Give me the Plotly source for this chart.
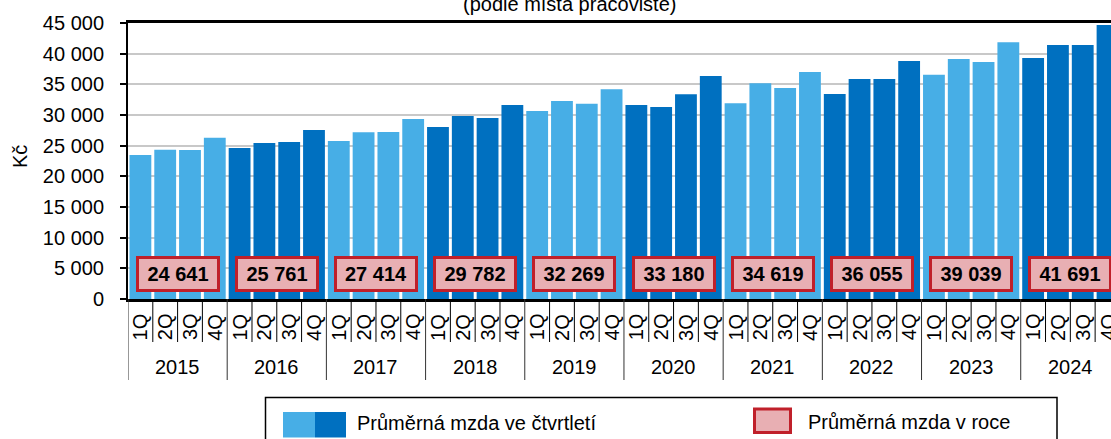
import plotly.graph_objects as go

years = ["2015", "2016", "2017", "2018", "2019", "2020", "2021", "2022", "2023", "2024"]
quarters = ["1Q", "2Q", "3Q", "4Q"]
quarterly_wage = [
    23480, 24350, 24300, 26300,
    24620, 25430, 25600, 27550,
    25760, 27170, 27230, 29350,
    28040, 29840, 29510, 31630,
    30650, 32280, 31850, 34190,
    31630, 31300, 33370, 36360,
    31900, 35160, 34400, 37010,
    33420, 35870, 35870, 38800,
    36570, 39130, 38640, 41850,
    39290, 41410, 41410, 44670,
]
annual_wage = [24641, 25761, 27414, 29782, 32269, 33180, 34619, 36055, 39039, 41691]
annual_labels = ["24 641", "25 761", "27 414", "29 782", "32 269", "33 180", "34 619", "36 055", "39 039", "41 691"]
y_ticks = [0, 5000, 10000, 15000, 20000, 25000, 30000, 35000, 40000, 45000]

LIGHT = "#47AEE6"
DARK = "#0070C0"
PINK = "#E8AFB3"
RED = "#C0202A"
FONT = "Liberation Sans, Arial, sans-serif"

W, H = 1111, 439
L, T = 128, 23
PW, PH = W - L, 276
B = H - T - PH


def px(xp):
    return (xp - L) / PW


def py(yp):
    return (T + PH - yp) / PH


n = len(quarterly_wage)
xs = list(range(n))
colors = [LIGHT if (i // 4) % 2 == 0 else DARK for i in xs]

fig = go.Figure()
fig.add_trace(go.Bar(
    x=xs, y=quarterly_wage,
    marker=dict(color=colors, line=dict(width=0)),
    showlegend=False, hoverinfo="y",
))

annotations = []
shapes = []

# annual boxes
for k, (yr, lab) in enumerate(zip(years, annual_labels)):
    annotations.append(dict(
        x=4 * k + 1.5, xref="x", y=4000, yref="y",
        text="<b>" + lab + "</b>", showarrow=False,
        font=dict(family=FONT, size=20, color="black"),
        bgcolor=PINK, bordercolor=RED, borderwidth=3, borderpad=1,
        width=76, height=28, xanchor="center", yanchor="middle",
    ))

# quarter labels
for i in xs:
    annotations.append(dict(
        x=i, xref="x", y=py(327), yref="paper",
        text=quarters[i % 4], textangle=-90, showarrow=False,
        font=dict(family=FONT, size=20, color="black"),
        xanchor="center", yanchor="middle",
    ))

# year labels
for k, yr in enumerate(years):
    annotations.append(dict(
        x=4 * k + 1.5, xref="x", y=py(367), yref="paper",
        text=yr, showarrow=False,
        font=dict(family=FONT, size=20, color="black"),
        xanchor="center", yanchor="middle",
    ))

# separators
for i in range(n + 1):
    b = i - 0.5
    long_line = (i % 4 == 0)
    shapes.append(dict(
        type="line", xref="x", yref="paper", x0=b, x1=b,
        y0=0, y1=py(380) if long_line else py(342),
        line=dict(color="#333333" if long_line else "black", width=1),
    ))

# title (cut at top)
annotations.append(dict(
    x=px(569), xref="paper", y=py(4), yref="paper",
    text="(podle místa pracoviště)", showarrow=False,
    font=dict(family=FONT, size=20, color="black"),
    xanchor="center", yanchor="middle",
))

# y-axis title
annotations.append(dict(
    x=px(20), xref="paper", y=py(157), yref="paper",
    text="Kč", textangle=-90, showarrow=False,
    font=dict(family=FONT, size=20, color="black"),
    xanchor="center", yanchor="middle",
))

# legend box
shapes.append(dict(
    type="rect", xref="paper", yref="paper",
    x0=px(265.5), x1=px(1057), y0=py(397.5), y1=py(470),
    line=dict(color="black", width=1.5), fillcolor="rgba(0,0,0,0)",
))
shapes.append(dict(
    type="rect", xref="paper", yref="paper",
    x0=px(283), x1=px(315), y0=py(437.5), y1=py(412),
    line=dict(width=0), fillcolor=LIGHT,
))
shapes.append(dict(
    type="rect", xref="paper", yref="paper",
    x0=px(315), x1=px(346), y0=py(437.5), y1=py(412),
    line=dict(width=0), fillcolor=DARK,
))
shapes.append(dict(
    type="rect", xref="paper", yref="paper",
    x0=px(754.5), x1=px(790.5), y0=py(432.5), y1=py(409),
    line=dict(width=3, color=RED), fillcolor=PINK,
))
annotations.append(dict(
    x=px(355), xref="paper", y=py(423), yref="paper",
    text="Průměrná mzda ve čtvrtletí", showarrow=False,
    font=dict(family=FONT, size=20, color="black"),
    xanchor="left", yanchor="middle",
))
annotations.append(dict(
    x=px(806), xref="paper", y=py(422), yref="paper",
    text="Průměrná mzda v roce", showarrow=False,
    font=dict(family=FONT, size=20, color="black"),
    xanchor="left", yanchor="middle",
))

fig.update_layout(
    width=W, height=H,
    margin=dict(l=L, r=0, t=T, b=B, pad=0),
    paper_bgcolor="white", plot_bgcolor="white",
    bargap=0.12,
    separators=", ",
    font=dict(family=FONT, size=20, color="black"),
    annotations=annotations,
    shapes=shapes,
    showlegend=False,
)
fig.update_xaxes(
    range=[-0.5, 39.14], showticklabels=False, ticks="",
    showgrid=False, zeroline=False,
    showline=True, linecolor="black", linewidth=2.5, mirror=True,
)
fig.update_yaxes(
    range=[0, 45000], tickvals=y_ticks, tickformat=",d",
    ticks="outside", ticklen=6, tickcolor="black", tickwidth=1.5,
    ticklabelstandoff=12,
    tickfont=dict(family=FONT, size=20, color="black"),
    showgrid=True, gridcolor="#C8C8C8", gridwidth=1.5,
    zeroline=False, showline=True, linecolor="black", linewidth=2,
    mirror=False,
)

fig.write_html(
    "out.html",
    config={"displayModeBar": False},
    post_script="document.body.style.margin='0';document.body.style.overflow='hidden';",
)
